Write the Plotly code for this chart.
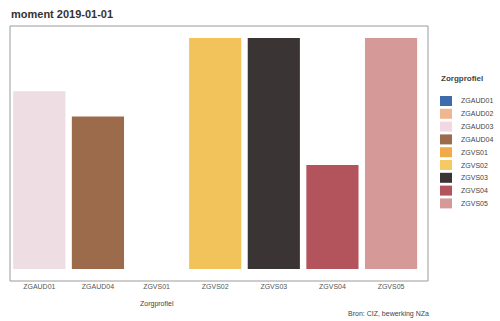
import plotly.graph_objects as go

# bars as they appear on the x axis
categories = ["ZGAUD01", "ZGAUD04", "ZGVS01", "ZGVS02", "ZGVS03", "ZGVS04", "ZGVS05"]
values = [77, 66, 0, 100, 100, 45, 100]
bar_colors = ["#eedde3", "#9b6b4b", "#f2a94a", "#f3c35b", "#3b3434", "#b3545c", "#d59a97"]

# legend entries
legend_names = ["ZGAUD01", "ZGAUD02", "ZGAUD03", "ZGAUD04", "ZGVS01",
                "ZGVS02", "ZGVS03", "ZGVS04", "ZGVS05"]
legend_colors = ["#3d6bab", "#f0b690", "#f2d9e1", "#9b6b4b", "#f2a94a",
                 "#f5c963", "#3b3434", "#b3545c", "#d59a97"]

W, H = 500, 321
L, R, T, B = 10, 72, 26, 40
pw, ph = W - L - R, H - T - B


def px_x(px):
    return (px - L) / pw


def px_y(py):
    return (H - B - py) / ph


fig = go.Figure()
fig.add_trace(go.Bar(
    x=categories, y=values,
    marker=dict(color=bar_colors, line=dict(width=0)),
    showlegend=False, hoverinfo="x+y"
))

shapes = [dict(type="rect", xref="paper", yref="paper", x0=0, x1=1, y0=0, y1=1,
               line=dict(color="#9a9a9a", width=1))]
annotations = [
    dict(text="<b>moment 2019-01-01</b>", xref="paper", yref="paper",
         x=px_x(9), y=px_y(14), xanchor="left", yanchor="middle",
         showarrow=False, font=dict(size=11, color="#333333")),
    dict(text="Zorgprofiel", xref="x", yref="paper", x="ZGVS01", y=px_y(304),
         yanchor="middle", showarrow=False,
         font=dict(size=7, color="#444444")),
    dict(text="Bron: CIZ, bewerking NZa", xref="paper", yref="paper",
         x=px_x(431), y=px_y(314), xanchor="right", yanchor="middle",
         showarrow=False, font=dict(size=7, color="#444444")),
    dict(text="<b>Zorgprofiel</b>", xref="paper", yref="paper",
         x=px_x(439), y=px_y(78), xanchor="left", yanchor="middle",
         showarrow=False, font=dict(size=8, color="#444444")),
]

# manual legend (plotly's own legend rows are too tall for this layout)
for i, (name, col) in enumerate(zip(legend_names, legend_colors)):
    cy = 101 + 12.8 * i
    shapes.append(dict(type="rect", xref="paper", yref="paper",
                       x0=px_x(440), x1=px_x(452), y0=px_y(cy + 5), y1=px_y(cy - 5),
                       fillcolor=col, line=dict(width=0)))
    annotations.append(dict(text=name, xref="paper", yref="paper",
                            x=px_x(459), y=px_y(cy), xanchor="left", yanchor="middle",
                            showarrow=False, font=dict(size=7, color="#444444")))

fig.update_layout(
    width=W, height=H,
    margin=dict(l=L, r=R, t=T, b=B, autoexpand=False),
    paper_bgcolor="white", plot_bgcolor="white",
    font=dict(family="Liberation Sans, Arial, sans-serif", size=7, color="#555555"),
    showlegend=False, bargap=0.11,
    xaxis=dict(range=[-0.5, 6.63], showgrid=False, zeroline=False, automargin=False,
               tickfont=dict(size=7, color="#555555"), ticks="", showline=False),
    yaxis=dict(range=[-5.2, 105.2], visible=False),
    shapes=shapes,
    annotations=annotations,
)

fig.write_html("out.html", config={"displayModeBar": False},
               post_script="document.body.style.margin='0px';")
